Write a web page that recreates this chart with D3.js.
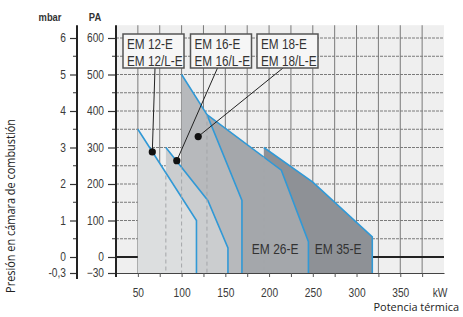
<!DOCTYPE html>
<html>
<head>
<meta charset="utf-8">
<script src="https://cdn.jsdelivr.net/npm/d3@7"></script>
<style>
  body { margin: 0; background: #fff; }
  .narrow { font-family: "Liberation Sans", Arial, sans-serif; }
</style>
</head>
<body>
<div id="chart"></div>
<script>
// tick labels
const kwTicks = [50, 100, 150, 200, 250, 300, 350];
const paTicks = [-30, 0, 100, 200, 300, 400, 500, 600];
const mbarTicks = [-0.3, 0, 1, 2, 3, 4, 5, 6];

// working fields, [kW, Pa], drawn back to front
const em35 = [[194, -30], [194, 300], [250, 205], [318, 55], [318, -30]];
const em26 = [[129, -30], [129, 390], [214, 238], [245, 42], [245, -30]];
const em18 = [[100, -30], [100, 500], [129, 390], [169, 155], [169, -30]];
const em16 = [[82, -30], [82, 300], [130, 155], [153, 25], [153, -30]];
const em12 = [[50, -30], [50, 350], [117, 100], [117, -30]];
const fields = [em35, em26, em18, em16, em12];
const fieldColors = ["#8e9196", "#a4a7ab", "#b7b9bc", "#cbcdcf", "#dcdedf"];

// callout boxes and the point each one marks
const boxLabels = [["EM 12-E", "EM 12/L-E"], ["EM 16-E", "EM 16/L-E"], ["EM 18-E", "EM 18/L-E"]];
const dotKw = [66.5, 94.5, 119];
const dotPa = [288, 264, 330];

// labels written inside the fields
const fieldLabels = ["EM 26-E", "EM 35-E"];
const fieldLabelKw = [207, 279];
const fieldLabelPa = [22, 22];

const width = 463, height = 317;
const blue = "#3199d6";

// squeeze a text horizontally (the source uses a condensed face),
// then re-anchor it by hand so the squeeze stays centred / right aligned
function condense(sel, k) {
    sel.each(function() {
        const len = this.getComputedTextLength();
        if (!(len > 0)) return;
        const anchor = getComputedStyle(this).textAnchor;
        const x = +(this.getAttribute("x") || 0);
        const newLen = len * k;
        const shift = anchor === "middle" ? newLen / 2 : anchor === "end" ? newLen : 0;
        d3.select(this)
            .attr("text-anchor", "start")
            .attr("x", x - shift)
            .attr("textLength", newLen)
            .attr("lengthAdjust", "spacingAndGlyphs");
    });
}

const svg = d3.select("#chart").append("svg")
    .attr("width", width)
    .attr("height", height)
    .style("display", "block");

const xScale = d3.scaleLinear().domain([25, 400]).range([116, 444]);
// the -30 step below zero is drawn taller than the rest
const yScale = d3.scaleLinear().domain([-30, 0, 600]).range([273, 257, 38]);
const mbarScale = d3.scaleLinear().domain([-0.3, 0, 6]).range([273, 257, 38]);
const topPa = 635;

const x0 = xScale(25), x1 = xScale(400);
const yTop = yScale(topPa), yBot = yScale(-30);

// plot background
svg.append("rect")
    .attr("x", x0).attr("y", yTop)
    .attr("width", x1 - x0).attr("height", yBot - yTop)
    .attr("fill", "#efefef");

// grid
const grid = svg.append("g");
grid.selectAll(".vgrid")
    .data(d3.range(50, 400, 25))
    .join("line")
    .attr("x1", d => xScale(d)).attr("x2", d => xScale(d))
    .attr("y1", yTop).attr("y2", yBot)
    .attr("stroke", "#7a7a7a").attr("stroke-width", 1);
grid.selectAll(".hgrid")
    .data(d3.range(50, 650, 50))
    .join("line")
    .attr("x1", x0).attr("x2", x1)
    .attr("y1", d => yScale(d)).attr("y2", d => yScale(d))
    .attr("stroke", "#7a7a7a").attr("stroke-width", 1)
    .attr("stroke-dasharray", "3,1");

// zero line
svg.append("line")
    .attr("x1", x0).attr("x2", x1)
    .attr("y1", yScale(0)).attr("y2", yScale(0))
    .attr("stroke", "#222").attr("stroke-width", 2);

// fields
const line = d3.line().x(d => xScale(d[0])).y(d => yScale(d[1]));
const defs = svg.append("defs");

fields.forEach((f, i) => {
    svg.append("path")
        .attr("d", line(f) + "Z")
        .attr("fill", fieldColors[i]);
    // the blue limit: everything except the left edge
    svg.append("path")
        .attr("d", line(f.slice(1)))
        .attr("fill", "none")
        .attr("stroke", blue)
        .attr("stroke-width", 1.6);
});

// hidden left edges of the back fields show as dashed lines
fields.forEach((f, i) => {
    if (i === fields.length - 1) return;
    const cp = defs.append("clipPath").attr("id", "front" + i);
    fields.slice(i + 1).forEach(g => cp.append("path").attr("d", line(g) + "Z"));
    svg.append("line")
        .attr("clip-path", "url(#front" + i + ")")
        .attr("x1", xScale(f[0][0])).attr("x2", xScale(f[0][0]))
        .attr("y1", yScale(f[1][1])).attr("y2", yScale(-30))
        .attr("stroke", "#a4a6a9").attr("stroke-width", 1)
        .attr("stroke-dasharray", "4,3");
});

// x axis
const xAxis = d3.axisBottom(xScale)
    .tickValues(d3.range(25, 400, 25))
    .tickSize(4).tickSizeOuter(0).tickPadding(11)
    .tickFormat(d => kwTicks.includes(d) ? d : "");
const gx = svg.append("g")
    .attr("class", "narrow")
    .attr("transform", "translate(0," + yBot + ")")
    .call(xAxis);
gx.select(".domain").attr("stroke", "#444").attr("stroke-width", 1.2);
gx.selectAll(".tick line").attr("stroke", "#555");
gx.selectAll("text").attr("font-size", 12).attr("fill", "#3a3a3a").call(condense, 0.85);

svg.append("text")
    .attr("class", "narrow")
    .attr("x", xScale(400) - 4).attr("y", yBot + 24)
    .attr("text-anchor", "middle")
    .attr("font-size", 12).attr("fill", "#3a3a3a")
    .text("kW")
    .call(condense, 0.85);

// PA axis
const paAxis = d3.axisLeft(yScale)
    .tickValues(paTicks).tickSize(8).tickSizeOuter(0).tickPadding(4);
const gpa = svg.append("g")
    .attr("class", "narrow")
    .attr("transform", "translate(" + x0 + ",0)")
    .call(paAxis);
gpa.select(".domain").remove();
gpa.selectAll(".tick line").attr("stroke", "#333").attr("stroke-width", 1.2);
gpa.selectAll("text").attr("font-size", 12).attr("fill", "#3a3a3a").call(condense, 0.85);
gpa.selectAll(".minor")
    .data(d3.range(50, 650, 100))
    .join("line")
    .attr("x1", -4).attr("x2", 0)
    .attr("y1", d => yScale(d)).attr("y2", d => yScale(d))
    .attr("stroke", "#333");
gpa.append("line")
    .attr("x1", 0).attr("x2", 0)
    .attr("y1", yTop).attr("y2", yBot + 4)
    .attr("stroke", "#222").attr("stroke-width", 2);

// mbar axis
const mbarAxis = d3.axisLeft(mbarScale)
    .tickValues(mbarTicks).tickSize(7).tickSizeOuter(0).tickPadding(4)
    .tickFormat(d => String(d).replace(".", ","));
const gmb = svg.append("g")
    .attr("class", "narrow")
    .attr("transform", "translate(77,0)")
    .call(mbarAxis);
gmb.select(".domain").remove();
gmb.selectAll(".tick line").attr("stroke", "#333").attr("stroke-width", 1.2);
gmb.selectAll("text").attr("font-size", 12).attr("fill", "#3a3a3a").call(condense, 0.85);
gmb.selectAll(".minor")
    .data(d3.range(0.5, 6.5, 1))
    .join("line")
    .attr("x1", -4).attr("x2", 0)
    .attr("y1", d => mbarScale(d)).attr("y2", d => mbarScale(d))
    .attr("stroke", "#333");
gmb.append("line")
    .attr("x1", 0).attr("x2", 0)
    .attr("y1", yTop).attr("y2", yBot + 6)
    .attr("stroke", "#222").attr("stroke-width", 2);

// unit titles
svg.append("text").attr("class", "narrow")
    .attr("x", 50).attr("y", 21).attr("text-anchor", "middle")
    .attr("font-size", 11).attr("font-weight", "bold").attr("fill", "#333")
    .text("mbar").call(condense, 0.85);
svg.append("text").attr("class", "narrow")
    .attr("x", 95).attr("y", 21).attr("text-anchor", "middle")
    .attr("font-size", 11).attr("font-weight", "bold").attr("fill", "#333")
    .text("PA").call(condense, 0.85);

// labels inside fields
fieldLabels.forEach((t, i) => {
    svg.append("text").attr("class", "narrow")
        .attr("x", xScale(fieldLabelKw[i])).attr("y", yScale(fieldLabelPa[i]) + 5)
        .attr("text-anchor", "middle")
        .attr("font-size", 15).attr("fill", "#333")
        .text(t)
        .call(condense, 0.8);
});

// callouts
const boxX = [123, 190.5, 257];
const boxW = 61, boxTop = 34, boxH = 34;
const leadX = [32, 27, 26];

boxLabels.forEach((lines, i) => {
    const g = svg.append("g");
    g.append("line")
        .attr("x1", boxX[i] + leadX[i]).attr("y1", boxTop + boxH)
        .attr("x2", xScale(dotKw[i])).attr("y2", yScale(dotPa[i]))
        .attr("stroke", "#222").attr("stroke-width", 1);
    g.append("circle")
        .attr("cx", xScale(dotKw[i])).attr("cy", yScale(dotPa[i]))
        .attr("r", 3.6).attr("fill", "#111");
    g.append("rect")
        .attr("x", boxX[i]).attr("y", boxTop)
        .attr("width", boxW).attr("height", boxH)
        .attr("fill", "#f6f6f6").attr("stroke", "#555").attr("stroke-width", 1.5);
    lines.forEach((t, j) => {
        g.append("text").attr("class", "narrow")
            .attr("x", boxX[i] + 4).attr("y", boxTop + 15 + j * 16.5)
            .attr("font-size", 14).attr("fill", "#333")
            .text(t)
            .call(condense, 0.84);
    });
});

// axis titles
svg.append("text")
    .attr("transform", "translate(15,206) rotate(-90)")
    .attr("x", 0).attr("y", 0)
    .attr("text-anchor", "middle")
    .attr("font-family", "'Open Sans', sans-serif")
    .attr("font-size", 12).attr("fill", "#222")
    .text("Presión en cámara de combustión")
    .call(condense, 0.91);
svg.append("text")
    .attr("x", 459).attr("y", 311)
    .attr("text-anchor", "end")
    .attr("font-family", "'Open Sans', sans-serif")
    .attr("font-size", 11.5).attr("fill", "#222")
    .text("Potencia térmica")
    .call(condense, 0.95);
</script>
</body>
</html>
